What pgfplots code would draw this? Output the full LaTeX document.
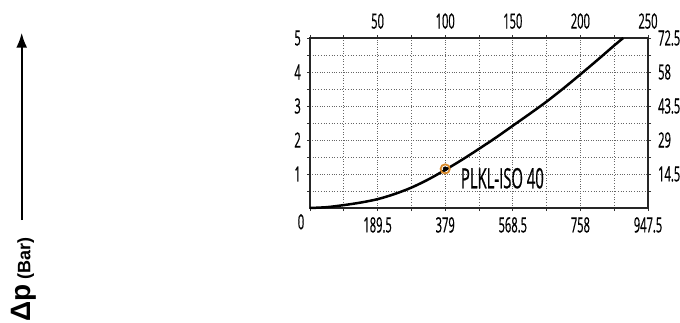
\documentclass[border=0pt]{standalone}
\usepackage{pgfplots}
\pgfplotsset{compat=1.18}
\usetikzlibrary{arrows.meta}
\usepackage{fontspec}
\setmainfont[FakeStretch=0.53, FakeBold=0.6]{Open Sans}
\newfontfamily\labfont{Liberation Sans}
\definecolor{markorange}{HTML}{D98A2B}
\begin{document}
\begin{tikzpicture}
\useasboundingbox (0,0) rectangle (680pt,322pt);
% left label with arrow
\draw[line width=2pt, -{Latex[length=15pt,width=11pt]}] (21.7pt,102pt) -- (21.7pt,289.3pt);
\node[rotate=90, anchor=base west, inner sep=0pt] at (30.5pt,0.5pt)
  {\labfont\bfseries\fontsize{28}{28}\selectfont Δp\hspace{5pt}{\fontsize{18}{18}\selectfont (Bar)}};
\begin{axis}[
  at={(310pt,114pt)}, anchor=south west,
  scale only axis, width=338pt, height=170pt,
  xmin=0, xmax=947.5, ymin=0, ymax=5,
  axis line style={line width=1.3pt, draw=black!85},
  xtick={0,189.5,379,568.5,758,947.5},
  xticklabels={,189.5,379,568.5,758,947.5},
  minor xtick={94.75,284.25,473.75,663.25,852.75},
  ytick={1,2,3,4,5},
  yticklabels={1,2,3,4,5},
  minor ytick={0.5,1.5,2.5,3.5,4.5},
  grid=both,
  grid style={dotted, line width=0.7pt, draw=black!60},
  minor grid style={dotted, line width=0.7pt, draw=black!60},
  tick align=outside,
  major tick length=3pt, minor tick length=3pt,
  tick style={line width=0.8pt, black!80},
  tick label style={font=\fontsize{21}{21}\selectfont, inner sep=0pt},
  xticklabel style={anchor=north, yshift=-6pt},
  yticklabel style={anchor=east, xshift=-6pt},
  clip=false,
]
\addplot[line width=2.5pt, black, smooth] coordinates {
(0,0) (47.4,0.025) (94.75,0.085) (142.1,0.16) (189.5,0.26) (236.9,0.41)
(284.25,0.60) (331.6,0.84) (379,1.12) (426.4,1.42) (473.75,1.74)
(521.1,2.07) (568.5,2.42) (615.9,2.77) (663.25,3.13) (710.6,3.52)
(758,3.93) (805.4,4.35) (852.75,4.78) (878,5.0)
};
\addplot[only marks, mark=o, mark size=4.6pt, mark options={draw=markorange, line width=1.8pt}] coordinates {(379,1.15)};
\addplot[only marks, mark=*, mark size=2.2pt, black] coordinates {(379,1.15)};
\node[anchor=base west, inner sep=0pt, font=\fontsize{28}{28}\selectfont] at (axis cs:422.5,0.58) {PLKL-ISO 40};
\node[anchor=north, inner sep=0pt, font=\fontsize{21}{21}\selectfont] at ([xshift=-9pt,yshift=-6pt]rel axis cs:0,0) {0};
\end{axis}
\begin{axis}[
  at={(310pt,114pt)}, anchor=south west,
  scale only axis, width=338pt, height=170pt,
  xmin=0, xmax=250, ymin=0, ymax=72.5,
  axis x line*=top, axis y line*=right,
  axis line style={draw=none},
  tick style={draw=none},
  major tick length=0pt, minor tick length=0pt,
  xtick={50,100,150,200,250},
  xticklabels={50,100,150,200,250},
  ytick={14.5,29,43.5,58,72.5},
  yticklabels={14.5,29,43.5,58,72.5},
  tick label style={font=\fontsize{21}{21}\selectfont, inner sep=0pt},
  xticklabel style={anchor=south, yshift=9pt},
  yticklabel style={anchor=west, xshift=10pt},
]
\end{axis}
\end{tikzpicture}
\end{document}
